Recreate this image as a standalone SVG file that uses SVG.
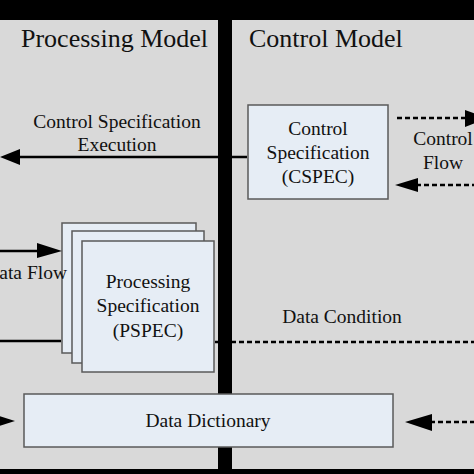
<svg xmlns="http://www.w3.org/2000/svg" width="474" height="474" viewBox="0 0 474 474">
<defs>
<style>
.t{font-family:"Liberation Serif","Times New Roman",serif;fill:#111;}
.title{font-size:26px;}
.lbl{font-size:19.5px;}
.box{fill:#e6edf5;stroke:#5a5a5a;stroke-width:1.5;}
.ln{stroke:#000;stroke-width:2.5;fill:none;}
.dash{stroke:#000;stroke-width:2.5;fill:none;stroke-dasharray:5 3;}
.ah{fill:#000;}
</style>
</defs>
<rect x="0" y="0" width="474" height="474" fill="#d9d9d9"/>
<rect x="0" y="0" width="474" height="20" fill="#000"/>
<rect x="0" y="469" width="474" height="5" fill="#000"/>
<rect x="218" y="20" width="14" height="449" fill="#000"/>

<text class="t title" x="21" y="47">Processing Model</text>
<text class="t title" x="249" y="47">Control Model</text>

<g id="cspec">
  <rect class="box" x="248" y="105" width="140" height="94"/>
  <text class="t lbl" x="318" y="135" text-anchor="middle">Control</text>
  <text class="t lbl" x="318" y="159" text-anchor="middle">Specification</text>
  <text class="t lbl" x="318" y="183" text-anchor="middle">(CSPEC)</text>
</g>

<g id="pspec">
  <rect class="box" x="62" y="223" width="134" height="130"/>
  <rect class="box" x="72" y="231" width="132" height="132"/>
  <rect class="box" x="82" y="241" width="132" height="131"/>
  <text class="t lbl" x="148" y="288" text-anchor="middle">Processing</text>
  <text class="t lbl" x="148" y="312" text-anchor="middle">Specification</text>
  <text class="t lbl" x="148" y="337" text-anchor="middle">(PSPEC)</text>
</g>

<g id="datadict">
  <rect class="box" x="24" y="394" width="369" height="53"/>
  <text class="t lbl" x="208" y="427" text-anchor="middle">Data Dictionary</text>
</g>

<g id="connectors">
  <!-- Control Specification Execution -->
  <line class="ln" x1="247" y1="157" x2="18" y2="157"/>
  <polygon class="ah" points="0,157 20,149 20,165"/>
  <text class="t lbl" x="117" y="128" text-anchor="middle">Control Specification</text>
  <text class="t lbl" x="117" y="151" text-anchor="middle">Execution</text>
  <!-- Control flow out -->
  <line class="dash" x1="397" y1="118" x2="468" y2="118"/>
  <polygon class="ah" points="488,118 465,110 465,127"/>
  <!-- Control flow in -->
  <line class="dash" x1="416" y1="185" x2="474" y2="185"/>
  <polygon class="ah" points="395,185 418,178 418,192"/>
  <text class="t lbl" x="443" y="145" text-anchor="middle">Control</text>
  <text class="t lbl" x="443" y="169" text-anchor="middle">Flow</text>
  <!-- Data flow in -->
  <line class="ln" x1="0" y1="251" x2="40" y2="251"/>
  <polygon class="ah" points="62,251 37,243 37,258"/>
  <text class="t lbl" x="67" y="279" text-anchor="end">Data Flow</text>
  <!-- Data flow out / data condition -->
  <line class="ln" x1="0" y1="341" x2="61" y2="341"/>
  <line class="dash" x1="215" y1="342" x2="474" y2="342"/>
  <text class="t lbl" x="342" y="323" text-anchor="middle">Data Condition</text>
  <!-- Data dictionary arrows -->
  <polygon class="ah" points="15,421 -10,413 -10,429"/>
  <line class="dash" x1="430" y1="422" x2="474" y2="422"/>
  <polygon class="ah" points="405,422 432,414 432,431"/>
</g>
</svg>
